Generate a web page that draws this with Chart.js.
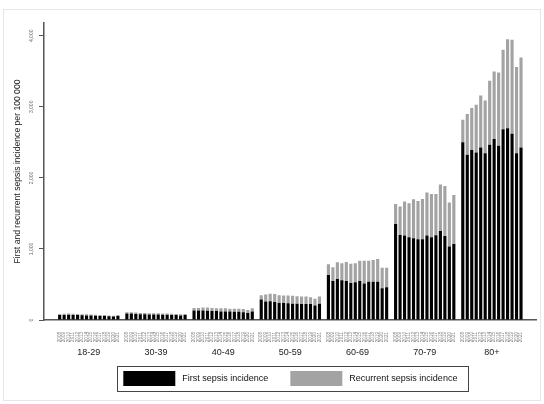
<!DOCTYPE html>
<html><head><meta charset="utf-8">
<script src="https://cdn.jsdelivr.net/npm/chart.js@4.4.0/dist/chart.umd.min.js"></script>
<style>html,body{margin:0;padding:0;background:#fff}#wrap{width:544px;height:404px;position:relative}</style>
</head><body><div id="wrap"><canvas id="c" width="544" height="404"></canvas></div>
<script>
const ageGroups = ['18-29', '30-39', '40-49', '50-59', '60-69', '70-79', '80+'];
const years = ['2008','2009','2010','2011','2012','2013','2014','2015','2016','2017','2018','2019','2020','2021'];
const yTickValues = [0, 1000, 2000, 3000, 4000];
const yTickLabels = ['0', '1,000', '2,000', '3,000', '4,000'];

// First sepsis incidence per 100 000, by age group, 2008-2021
const first18_29 = [70, 72, 75, 72, 70, 68, 65, 63, 60, 58, 56, 52, 48, 55];
const first30_39 = [90, 90, 85, 82, 82, 78, 78, 78, 74, 74, 72, 70, 65, 70];
const first40_49 = [135, 135, 135, 130, 125, 125, 120, 120, 120, 115, 115, 110, 100, 120];
const first50_59 = [290, 260, 265, 255, 240, 240, 235, 230, 230, 225, 225, 225, 205, 230];
const first60_69 = [634, 549, 577, 559, 549, 521, 531, 549, 512, 540, 540, 540, 446, 460];
const first70_79 = [1352, 1197, 1188, 1164, 1150, 1136, 1136, 1188, 1164, 1192, 1254, 1183, 1033, 1070];
const first80 = [2503, 2324, 2394, 2357, 2427, 2347, 2465, 2549, 2451, 2686, 2700, 2620, 2347, 2427];

// Recurrent sepsis incidence per 100 000 (stacked on top)
const rec18_29 = [15, 16, 15, 16, 15, 14, 15, 15, 15, 14, 14, 13, 12, 15];
const rec30_39 = [20, 20, 20, 18, 18, 17, 17, 17, 16, 16, 16, 15, 15, 15];
const rec40_49 = [35, 35, 40, 45, 45, 40, 45, 45, 40, 45, 45, 45, 40, 45];
const rec50_59 = [60, 100, 105, 110, 110, 105, 110, 110, 105, 105, 105, 95, 95, 100];
const rec60_69 = [150, 193, 235, 241, 268, 269, 269, 286, 323, 295, 305, 319, 289, 275];
const rec70_79 = [282, 399, 479, 479, 550, 540, 568, 605, 611, 583, 652, 704, 619, 691];
const rec80 = [314, 577, 588, 671, 732, 742, 901, 948, 1032, 1117, 1253, 1324, 1212, 1267];

const firstSepsis = [first18_29, first30_39, first40_49, first50_59, first60_69, first70_79, first80];
const recurrentSepsis = [rec18_29, rec30_39, rec40_49, rec50_59, rec60_69, rec70_79, rec80];

const FONT = "'Liberation Sans', Arial, sans-serif";
const EDGE_SLOTS = 3, GAP_SLOTS = 1;
const labels = [], firstData = [], recData = [], groupCenters = [];
function pushEmpty(n){ for (let i = 0; i < n; i++){ labels.push(''); firstData.push(null); recData.push(null); } }
pushEmpty(EDGE_SLOTS);
ageGroups.forEach((g, gi) => {
  if (gi > 0) pushEmpty(GAP_SLOTS);
  groupCenters.push(labels.length + (years.length - 1) / 2);
  years.forEach((y, yi) => { labels.push(y); firstData.push(firstSepsis[gi][yi]); recData.push(recurrentSepsis[gi][yi]); });
});
pushEmpty(EDGE_SLOTS);

const framePlugin = {
  id: 'frames',
  beforeDraw(chart) {
    const ctx = chart.ctx;
    ctx.save();
    ctx.fillStyle = '#fff';
    ctx.fillRect(0, 0, chart.width, chart.height);
    ctx.strokeStyle = '#e6e6e6';
    ctx.lineWidth = 1;
    ctx.strokeRect(3.5, 9.5, 537, 391);
    ctx.restore();
  },
  afterDraw(chart) {
    const ctx = chart.ctx;
    const ys = chart.scales.y, xs = chart.scales.x;
    ctx.save();
    // rotated y tick labels
    ctx.fillStyle = '#666';
    ctx.font = '5px ' + FONT;
    ctx.textAlign = 'center';
    ctx.textBaseline = 'middle';
    yTickValues.forEach((v, i) => {
      const py = ys.getPixelForValue(v);
      ctx.save();
      ctx.translate(32, py);
      ctx.rotate(-Math.PI / 2);
      ctx.fillText(yTickLabels[i], 0, 0);
      ctx.restore();
    });
    // age-group labels under each block of years
    ctx.fillStyle = '#222';
    ctx.font = '9px ' + FONT;
    ageGroups.forEach((g, i) => {
      ctx.fillText(g, xs.getPixelForValue(groupCenters[i]), xs.top + 33);
    });
    // legend frame
    const hb = chart.legend.legendHitBoxes;
    if (hb && hb.length) {
      const l = Math.min(...hb.map(b => b.left)) - 6;
      const r = Math.max(...hb.map(b => b.left + b.width)) + 11;
      const t = Math.min(...hb.map(b => b.top)) - 5;
      const btm = Math.max(...hb.map(b => b.top + b.height)) + 5;
      ctx.strokeStyle = '#444';
      ctx.lineWidth = 1;
      ctx.strokeRect(Math.round(l) + 0.5, Math.round(t) + 0.5, Math.round(r - l), Math.round(btm - t));
    }
    ctx.restore();
  }
};

new Chart(document.getElementById('c'), {
  type: 'bar',
  data: {
    labels: labels,
    datasets: [
      { label: ' First sepsis incidence', data: firstData, backgroundColor: '#000000', borderWidth: 0, stack: 's', barPercentage: 0.7, categoryPercentage: 1 },
      { label: ' Recurrent sepsis incidence', data: recData, backgroundColor: '#a3a3a3', borderWidth: 0, stack: 's', barPercentage: 0.7, categoryPercentage: 1 }
    ]
  },
  options: {
    responsive: false,
    animation: false,
    devicePixelRatio: 1,
    layout: { padding: { left: 0, right: 6, top: 23, bottom: 8 } },
    plugins: {
      legend: {
        position: 'bottom', fullSize: false,
        labels: { boxWidth: 52, boxHeight: 15, padding: 22, color: '#111', font: { size: 9, family: FONT } }
      },
      tooltip: { enabled: false }
    },
    scales: {
      x: {
        type: 'category', stacked: true,
        grid: { display: false },
        border: { display: true, color: '#555', width: 1.5 },
        ticks: { autoSkip: false, minRotation: 90, maxRotation: 90, font: { size: 4.6, family: FONT }, color: '#777', padding: 4 },
        afterFit(s) { s.height = 29; }
      },
      y: {
        stacked: true, min: 0, max: 4180,
        afterBuildTicks(s) { s.ticks = yTickValues.map(v => ({ value: v })); },
        grid: { drawOnChartArea: false, drawTicks: true, tickLength: 5, color: '#555' },
        border: { display: true, color: '#555', width: 1.5 },
        ticks: { color: 'rgba(0,0,0,0)', callback: () => '' },
        title: { display: true, text: 'First and recurrent sepsis incidence per 100 000', font: { size: 8.6, family: FONT }, color: '#222', padding: { top: 12, bottom: 0 } },
        afterFit(s) { s.width = 44; }
      }
    }
  },
  plugins: [framePlugin]
});
</script></body></html>
